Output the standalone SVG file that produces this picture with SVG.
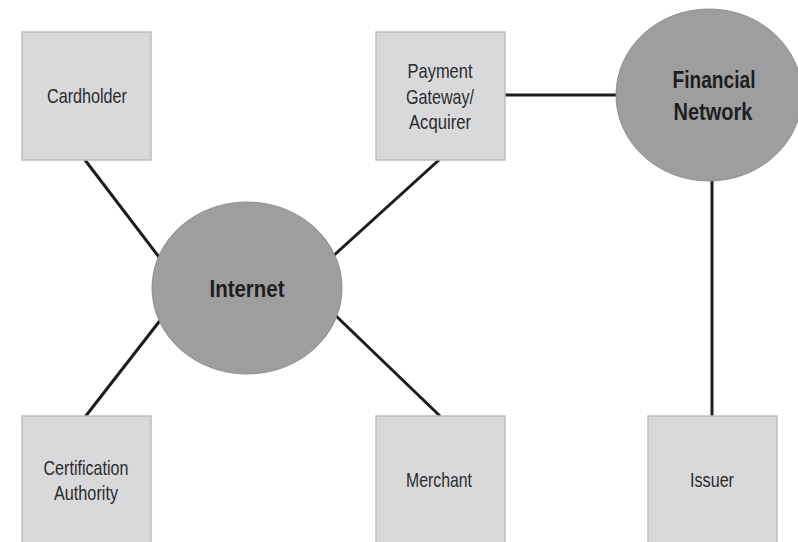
<svg xmlns="http://www.w3.org/2000/svg" width="798" height="542" viewBox="0 0 798 542">
  <style>
    .box { fill: #d9d9db; stroke: #bdbdbf; stroke-width: 1.5; }
    .hub { fill: #9e9ea0; stroke: #8e8e90; stroke-width: 1; }
    .lbl { font-family: "Liberation Sans", Arial, sans-serif; font-size: 21px; fill: #2b2b2b; text-anchor: middle; }
    .hubl { font-family: "Liberation Sans", Arial, sans-serif; font-size: 23px; font-weight: bold; fill: #1e1e1e; text-anchor: middle; }
    .link { stroke: #1c1c1c; stroke-width: 3; fill: none; }
  </style>
  <rect width="798" height="542" fill="#ffffff"/>

  <!-- connectors -->
  <g id="connectors">
    <line class="link" x1="85" y1="160" x2="162" y2="261"/>
    <line class="link" x1="440" y1="159" x2="332" y2="257"/>
    <line class="link" x1="85" y1="417" x2="162" y2="318"/>
    <line class="link" x1="334" y1="314" x2="440" y2="416"/>
    <line class="link" x1="505" y1="95" x2="617" y2="95"/>
    <line class="link" x1="712" y1="180" x2="712" y2="416"/>
  </g>

  <g id="cardholder">
    <rect class="box" x="22" y="32" width="129" height="128"/>
    <text class="lbl" x="87" y="103" textLength="80" lengthAdjust="spacingAndGlyphs">Cardholder</text>
  </g>

  <g id="payment-gateway">
    <rect class="box" x="376" y="32" width="129" height="128"/>
    <text class="lbl" x="440" y="78" textLength="65" lengthAdjust="spacingAndGlyphs">Payment</text>
    <text class="lbl" x="440" y="104" textLength="68" lengthAdjust="spacingAndGlyphs">Gateway/</text>
    <text class="lbl" x="440" y="129" textLength="62" lengthAdjust="spacingAndGlyphs">Acquirer</text>
  </g>

  <g id="financial-network">
    <ellipse class="hub" cx="709" cy="95" rx="93" ry="86"/>
    <text class="hubl" x="714" y="88" textLength="83" lengthAdjust="spacingAndGlyphs">Financial</text>
    <text class="hubl" x="713" y="120" textLength="79" lengthAdjust="spacingAndGlyphs">Network</text>
  </g>

  <g id="internet">
    <ellipse class="hub" cx="247" cy="288" rx="95" ry="86"/>
    <text class="hubl" x="247" y="297" textLength="75" lengthAdjust="spacingAndGlyphs">Internet</text>
  </g>

  <g id="certification-authority">
    <rect class="box" x="22" y="416" width="129" height="140"/>
    <text class="lbl" x="86" y="475" textLength="85" lengthAdjust="spacingAndGlyphs">Certification</text>
    <text class="lbl" x="86" y="500" textLength="64" lengthAdjust="spacingAndGlyphs">Authority</text>
  </g>

  <g id="merchant">
    <rect class="box" x="376" y="416" width="129" height="140"/>
    <text class="lbl" x="439" y="487" textLength="66" lengthAdjust="spacingAndGlyphs">Merchant</text>
  </g>

  <g id="issuer">
    <rect class="box" x="648" y="416" width="129" height="140"/>
    <text class="lbl" x="712" y="487" textLength="44" lengthAdjust="spacingAndGlyphs">Issuer</text>
  </g>
</svg>
